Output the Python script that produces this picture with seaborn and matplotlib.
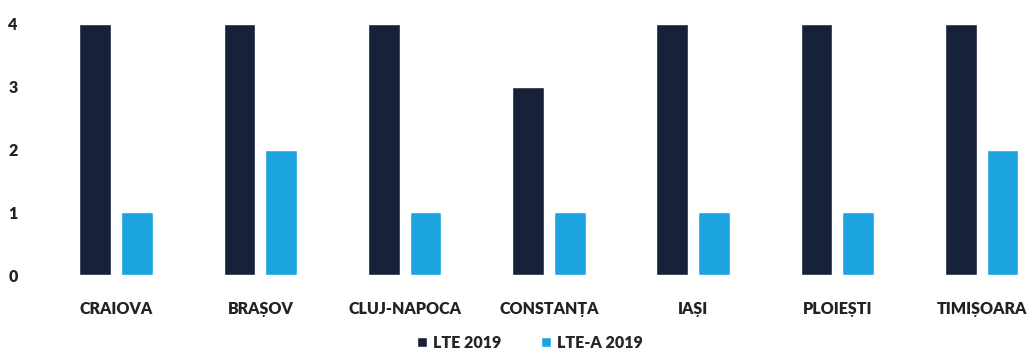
import pandas as pd
import matplotlib
matplotlib.use("Agg")
import matplotlib.pyplot as plt
import seaborn as sns
from matplotlib.patches import Patch

cities = ["CRAIOVA", "BRAȘOV", "CLUJ-NAPOCA", "CONSTANȚA", "IAȘI", "PLOIEȘTI", "TIMIȘOARA"]
lte_2019 = [4, 4, 4, 3, 4, 4, 4]
lte_a_2019 = [1, 2, 1, 1, 1, 1, 2]
series = ["LTE 2019", "LTE-A 2019"]
colors = {"LTE 2019": "#17213a", "LTE-A 2019": "#1ba4df"}

df = pd.DataFrame({
    "city": cities * 2,
    "series": [series[0]] * len(cities) + [series[1]] * len(cities),
    "value": lte_2019 + lte_a_2019,
})

sns.set_theme(style="white")
plt.rcParams["font.family"] = ["Lato", "DejaVu Sans"]

fig = plt.figure(figsize=(10.35, 3.58), dpi=100)
ax = fig.add_axes([44 / 1035, 83 / 358, 991 / 1035, 251 / 358])

sns.barplot(data=df, x="city", y="value", hue="series", palette=colors,
            width=0.58, gap=0.24, saturation=1, ax=ax, legend=False)

ax.set_xlim(-0.5, 6.37)
ax.set_ylim(0, 4)
ax.set_yticks([0, 1, 2, 3, 4])
ax.set_xlabel("")
ax.set_ylabel("")
sns.despine(ax=ax, left=True, bottom=True)
ax.tick_params(axis="x", length=0, pad=19, labelsize=11.5, labelcolor="#222222")
ax.tick_params(axis="y", length=0, pad=19, labelsize=11.5, labelcolor="#222222")
for lbl in ax.get_xticklabels() + ax.get_yticklabels():
    lbl.set_fontweight("heavy")

handles = [Patch(facecolor=colors[s], label=s) for s in series]
fig.legend(handles=handles, loc="center", bbox_to_anchor=(530 / 1035, 1 - 343 / 358),
           ncol=2, frameon=False, handlelength=0.6, handleheight=0.6,
           handletextpad=0.4, columnspacing=2.5,
           prop={"weight": "heavy", "size": 11.5})

fig.savefig("out.png", dpi=100, facecolor="white")
